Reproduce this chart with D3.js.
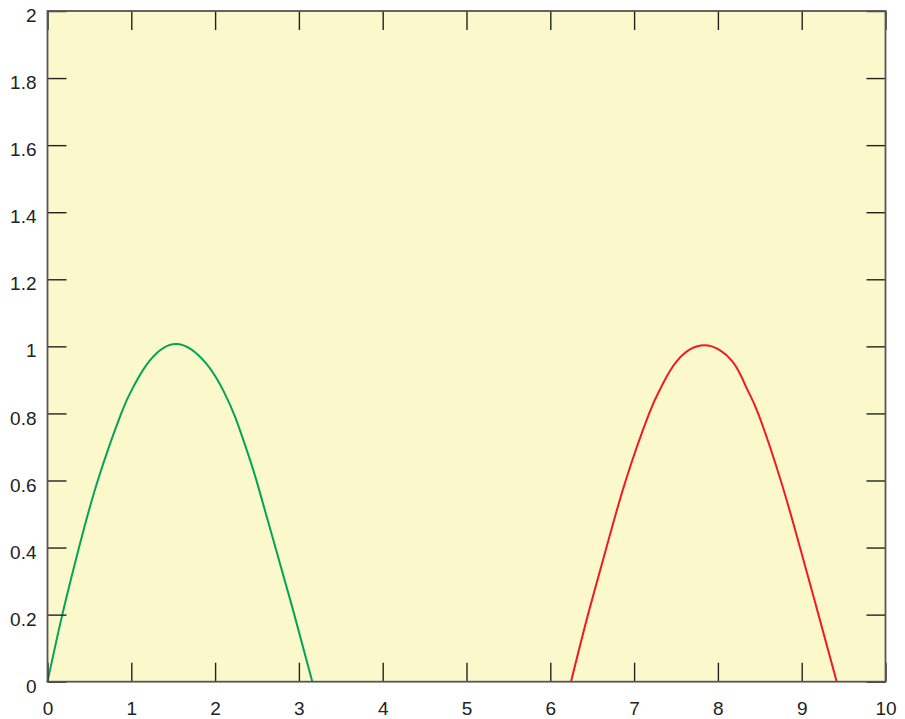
<!DOCTYPE html>
<html lang="en">

<head>
  <meta charset="UTF-8">
  <title>two arches</title>
  <style>
    html, body {
      margin: 0;
      padding: 0;
      background: #fff;
    }

    #main {
      width: 905px;
      height: 719px;
    }

    text {
      font-family: 'Liberation Sans', Arial, Helvetica, sans-serif;
    }
  </style>
</head>

<body>
  <div id="main"></div>
  <script src="https://d3js.org/d3.v7.min.js"></script>
  <script>
    // data
    const xTicks = [0, 1, 2, 3, 4, 5, 6, 7, 8, 9, 10]
    const yTicks = [0, 0.2, 0.4, 0.6, 0.8, 1, 1.2, 1.4, 1.6, 1.8, 2]

    // green arch
    const greenX = [0, 0.177, 0.376, 0.60, 0.88, 1.02, 1.215, 1.549, 1.90, 2.098, 2.241, 2.408, 2.512, 2.72, 2.945, 3.16]
    const greenY = [0, 0.2, 0.4, 0.6, 0.8, 0.877, 0.956, 1.007, 0.947, 0.868, 0.788, 0.668, 0.584, 0.4, 0.2, 0]

    // red arch
    const redX = [6.247, 6.45, 6.67, 6.90, 7.18, 7.32, 7.51, 7.838, 8.17, 8.34, 8.48, 8.75, 8.98, 9.20, 9.418]
    const redY = [0, 0.2, 0.4, 0.6, 0.8, 0.877, 0.956, 1.003, 0.956, 0.877, 0.8, 0.6, 0.4, 0.2, 0]

    // container
    const [width, height] = [905, 719]
    const plot = { left: 47.5, right: 885.5, top: 11, bottom: 681.7 }
    const tickLen = 19
    const fontSize = 19

    const svg = d3.select('#main').append('svg')
      .attr('xmlns', 'http://www.w3.org/2000/svg')
      .attr('width', width)
      .attr('height', height)
      .attr('viewBox', `0 0 ${width} ${height}`)

    // scales
    const xScale = d3.scaleLinear().domain([0, 10]).range([plot.left, plot.right])
    const yScale = d3.scaleLinear().domain([0, 2]).range([plot.bottom, plot.top])

    // background
    svg.append('rect')
      .attr('x', plot.left)
      .attr('y', plot.top)
      .attr('width', plot.right - plot.left)
      .attr('height', plot.bottom - plot.top)
      .attr('fill', '#fbf8cb')

    // curves
    const line = d3.line()
      .x(d => xScale(d[0]))
      .y(d => yScale(d[1]))
      .curve(d3.curveNatural)

    const series = [
      { xs: greenX, ys: greenY, color: '#00a651' },
      { xs: redX, ys: redY, color: '#ed1c24' }
    ]

    svg.append('g')
      .selectAll('path')
      .data(series)
      .join('path')
      .attr('d', s => line(s.xs.map((x, i) => [x, s.ys[i]])))
      .attr('fill', 'none')
      .attr('stroke', s => s.color)
      .attr('stroke-width', 2)

    // axes, ticks pointing inward on all four sides
    const styleAxis = g => {
      g.select('.domain').remove()
      g.selectAll('.tick line').attr('stroke', '#222').attr('stroke-width', 1.4)
      g.selectAll('.tick text').attr('fill', '#222').style('font-size', fontSize + 'px')
    }

    svg.append('g')
      .attr('transform', `translate(0 ${plot.bottom})`)
      .call(d3.axisBottom(xScale).tickValues(xTicks).tickSizeInner(-tickLen).tickSizeOuter(0).tickPadding(19.5).tickFormat(d3.format('')))
      .call(styleAxis)

    svg.append('g')
      .attr('transform', `translate(0 ${plot.top})`)
      .call(d3.axisTop(xScale).tickValues(xTicks).tickSizeInner(-tickLen).tickSizeOuter(0).tickFormat(''))
      .call(styleAxis)

    svg.append('g')
      .attr('transform', `translate(${plot.left} 0)`)
      .call(d3.axisLeft(yScale).tickValues(yTicks).tickSizeInner(-tickLen).tickSizeOuter(0).tickPadding(11).tickFormat(d3.format('')))
      .call(styleAxis)
      .selectAll('.tick text')
      .attr('dy', '0.56em')

    svg.append('g')
      .attr('transform', `translate(${plot.right} 0)`)
      .call(d3.axisRight(yScale).tickValues(yTicks).tickSizeInner(-tickLen).tickSizeOuter(0).tickFormat(''))
      .call(styleAxis)

    // frame
    svg.append('rect')
      .attr('x', plot.left)
      .attr('y', plot.top)
      .attr('width', plot.right - plot.left)
      .attr('height', plot.bottom - plot.top)
      .attr('fill', 'none')
      .attr('stroke', '#555')
      .attr('stroke-width', 1.8)
  </script>
</body>

</html>
